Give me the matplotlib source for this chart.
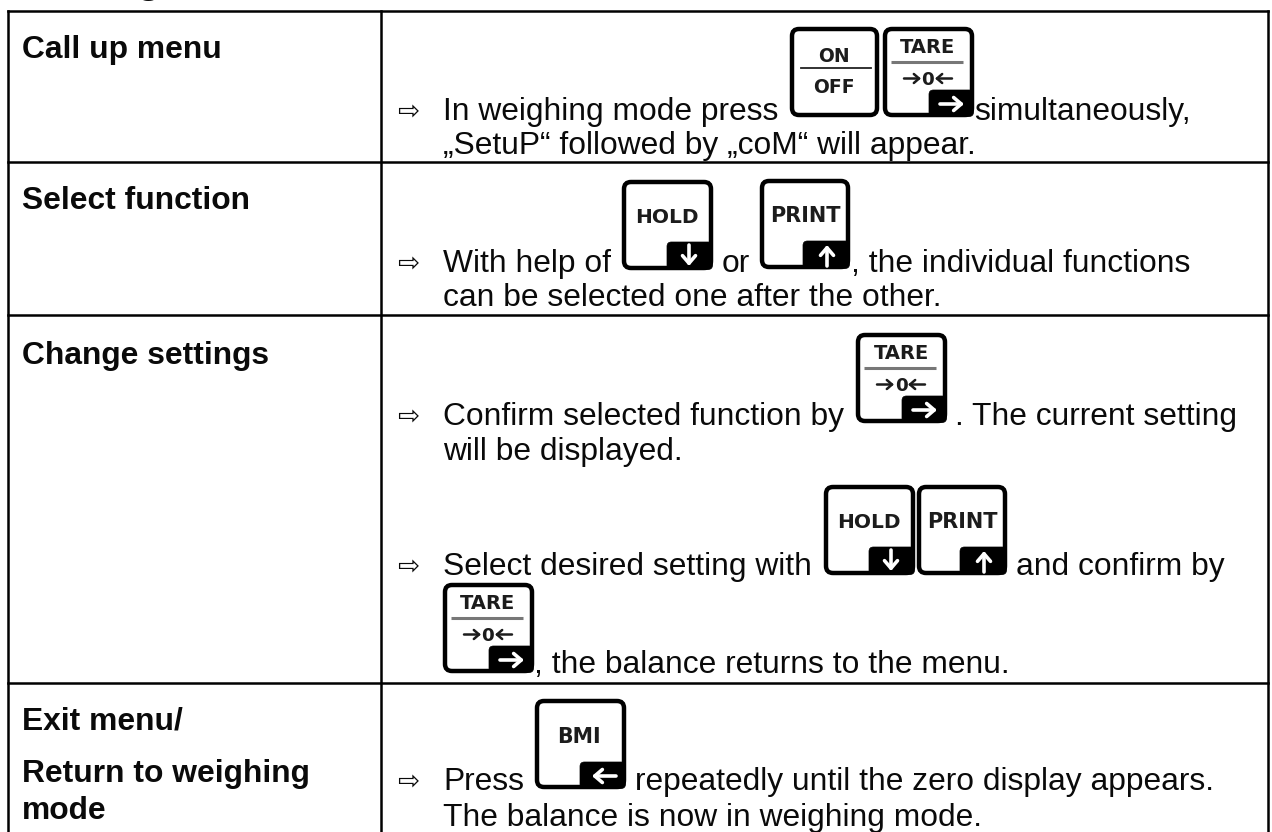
import matplotlib
matplotlib.use("Agg")
import matplotlib.pyplot as plt
from matplotlib.patches import FancyBboxPatch

heading = "Settings"
row_titles = [["Call up menu"], ["Select function"], ["Change settings"],
              ["Exit menu/", "Return to weighing", "mode"]]
bullet = "\u21e8"
body_lines = [
    ("In weighing mode press", "simultaneously,"),
    ("\u201eSetuP\u201c followed by \u201ecoM\u201c will appear.",),
    ("With help of", "or", ", the individual functions"),
    ("can be selected one after the other.",),
    ("Confirm selected function by", ". The current setting"),
    ("will be displayed.",),
    ("Select desired setting with", "and confirm by"),
    (", the balance returns to the menu.",),
    ("Press", "repeatedly until the zero display appears."),
    ("The balance is now in weighing mode.",),
]

plt.rcParams["font.family"] = ["Liberation Sans", "DejaVu Sans"]
fig = plt.figure(figsize=(12.72, 8.32), dpi=100)
ax = fig.add_axes([0, 0, 1, 1])
ax.set_xlim(0, 1272)
ax.set_ylim(832, 0)
ax.axis("off")

FS = 22.9
INK = "#0a0a0a"


def T(x, y, s, **k):
    k.setdefault("fontsize", FS)
    k.setdefault("va", "baseline")
    k.setdefault("color", INK)
    ax.text(x, y, s, **k)


def L(s, cx, y, size=14.0):
    T(cx, y, s, fontsize=size, fontweight="bold", ha="center", zorder=4,
      color="#1c1c1c", family=["DejaVu Sans"])


def arrow(x0, y0, x1, y1, color="white", lw=2.6, ms=13, z=6):
    ax.annotate("", xy=(x1, y1), xytext=(x0, y0), zorder=z,
                arrowprops=dict(arrowstyle="->,head_length=0.42,head_width=0.36",
                                color=color, lw=lw, mutation_scale=ms,
                                shrinkA=0, shrinkB=0))


def box(x, y, w=91, h=90):
    ax.add_patch(FancyBboxPatch((x + 2, y + 2), w - 4, h - 4,
                                boxstyle="round,pad=0,rounding_size=7",
                                fc="white", ec="black", lw=3.2, zorder=3))


def tab(x, y, dx, dy, w=91, h=90):
    ax.add_patch(FancyBboxPatch((x + dx, y + dy), w - dx - 0.5, h - dy - 0.5,
                                boxstyle="round,pad=0,rounding_size=4.5",
                                fc="black", ec="black", lw=0.5, zorder=4))
    ax.fill_between([x + dx + 10, x + w - 0.5], y + h - 12, y + h - 6,
                    color="black", lw=0, zorder=4)


def on_off(x, y):
    box(x, y, w=89, h=90)
    L("ON", x + 44, y + 35, 13.5)
    ax.plot([x + 11, x + 81], [y + 41, y + 41], color="#222222", lw=1.3, zorder=4)
    L("OFF", x + 44, y + 66, 13.5)


def tare(x, y):
    box(x, y, w=91, h=90)
    L("TARE", x + 45, y + 26, 14.0)
    ax.plot([x + 8, x + 80], [y + 35, y + 35], color="#777777", lw=2.2, zorder=4,
            solid_capstyle="butt")
    L("0", x + 45, y + 58, 13.2)
    arrow(x + 21, y + 51.5, x + 38, y + 51.5, color="#1c1c1c", lw=1.8, ms=9, z=4)
    arrow(x + 69, y + 51.5, x + 52, y + 51.5, color="#1c1c1c", lw=1.8, ms=9, z=4)
    tab(x, y, 46, 63)
    arrow(x + 57, y + 77, x + 81, y + 77)


def hold(x, y):
    box(x, y)
    L("HOLD", x + 45, y + 43, 14.5)
    tab(x, y, 45, 62)
    arrow(x + 67, y + 65, x + 67, y + 86)


def print_(x, y):
    box(x, y, w=90)
    L("PRINT", x + 45, y + 43, 15.0)
    tab(x, y, 43, 62, w=90)
    arrow(x + 67, y + 87, x + 67, y + 66)


def bmi(x, y):
    box(x, y)
    L("BMI", x + 44, y + 44, 14.8)
    tab(x, y, 45, 63)
    arrow(x + 81, y + 77, x + 57, y + 77)


# table
LW = 1.8
xs = [7.5, 381, 1268]
ys = [11, 162, 315, 683]
for x in xs:
    ax.plot([x, x], [ys[0], 834], color="black", lw=LW, solid_capstyle="projecting")
for y in ys:
    ax.plot([xs[0], xs[-1]], [y, y], color="black", lw=LW, solid_capstyle="projecting")

# heading (cut by the top edge, as in the reference)
T(26, -7, heading, fontweight="bold", fontsize=29, clip_on=True)

# row titles
title_y = [[58], [209], [364], [729, 782, 819]]
for lines, yy in zip(row_titles, title_y):
    for s, y in zip(lines, yy):
        T(22, y, s, fontweight="bold", fontsize=22.9)


def bullet_at(y):
    T(397, y, bullet, fontsize=19, family=["DejaVu Sans"])


TX = 443
# row 1
bullet_at(120)
T(TX, 120, body_lines[0][0])
on_off(790, 27)
tare(883, 27)
T(974, 120, body_lines[0][1])
T(TX, 154, body_lines[1][0])
# row 2
bullet_at(272)
T(TX, 272, body_lines[2][0])
hold(622, 180)
T(722, 272, body_lines[2][1])
print_(760, 179)
T(851, 272, body_lines[2][2])
T(TX, 306, body_lines[3][0])
# row 3
tare(856, 333)
bullet_at(425)
T(TX, 425, body_lines[4][0])
T(955, 425, body_lines[4][1])
T(TX, 460, body_lines[5][0])
bullet_at(575)
T(TX, 575, body_lines[6][0])
hold(824, 485)
print_(917, 485)
T(1016, 575, body_lines[6][1])
tare(443, 583)
T(534, 673, body_lines[7][0])
# row 4
bullet_at(790)
T(TX, 790, body_lines[8][0])
bmi(535, 699)
T(635, 790, body_lines[8][1])
T(TX, 826, body_lines[9][0])

fig.savefig("out.png", dpi=100)
